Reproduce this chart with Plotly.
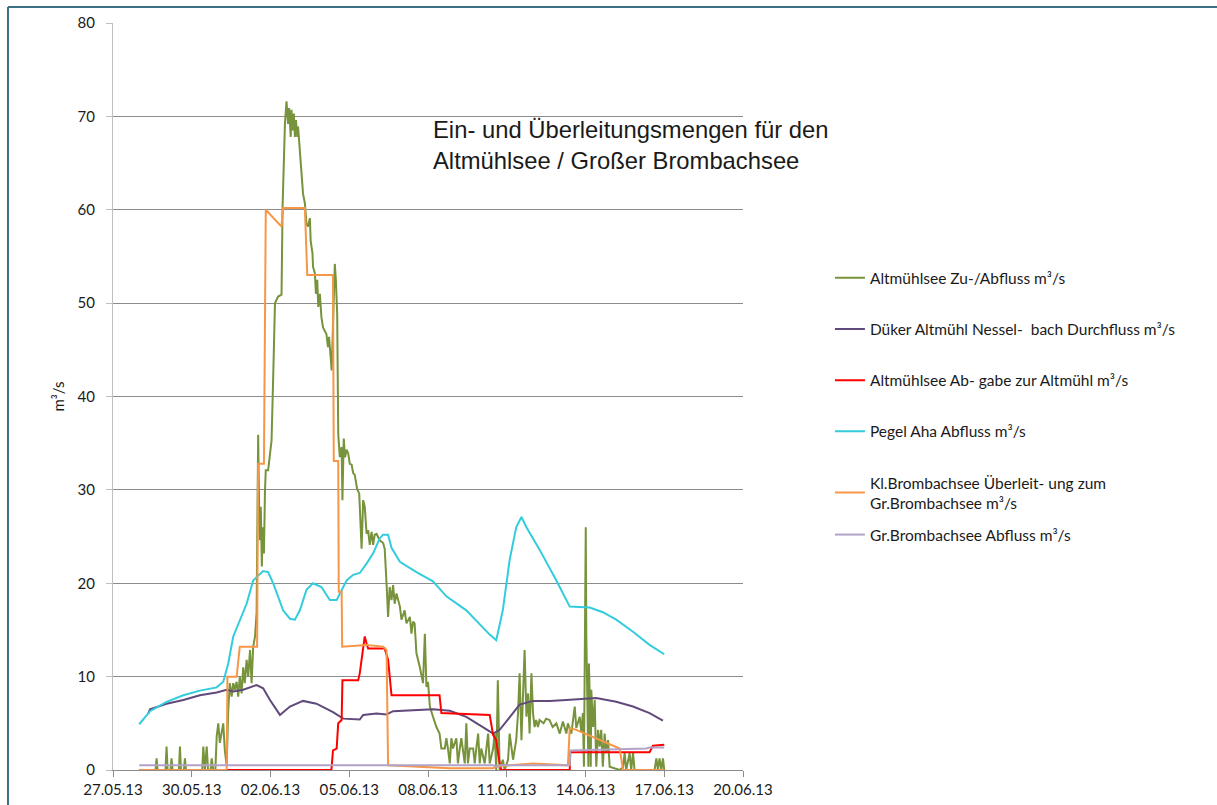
import pandas as pd
import plotly.graph_objects as go

DAY0 = "2013-05-27"  # x values below are days after 27.05.13 00:00

# Altmühlsee Zu-/Abfluss
green_t = [1.0, 1.62, 1.66, 1.70, 2.0, 2.04, 2.08, 2.19, 2.23, 2.27, 2.51, 2.55, 2.59, 2.70, 2.74, 2.78,
           3.40, 3.44, 3.50, 3.57, 3.62, 3.72, 3.76, 3.82, 3.90, 3.95, 4.01, 4.07, 4.20, 4.26, 4.33,
           4.39, 4.45, 4.52, 4.58, 4.64, 4.71, 4.77, 4.83, 4.90, 4.96, 5.02, 5.09, 5.15, 5.22, 5.28,
           5.34, 5.41, 5.47, 5.53, 5.57, 5.60, 5.63, 5.67, 5.70, 5.75, 5.79, 5.82, 5.91, 5.98, 6.04,
           6.10, 6.17, 6.29, 6.42, 6.46, 6.51, 6.55, 6.61, 6.67, 6.71, 6.77, 6.80, 6.84, 6.89, 6.93,
           6.97, 7.02, 7.05, 7.12, 7.18, 7.24, 7.31, 7.37, 7.43, 7.50, 7.53, 7.60, 7.62, 7.69, 7.73,
           7.78, 7.82, 7.88, 7.94, 8.00, 8.13, 8.19, 8.23, 8.29, 8.33, 8.45, 8.49, 8.54, 8.58, 8.64,
           8.71, 8.74, 8.79, 8.84, 8.90, 8.96, 9.02, 9.09, 9.15, 9.21, 9.30, 9.38, 9.47, 9.53, 9.59,
           9.66, 9.72, 9.78, 9.85, 9.91, 9.97, 10.04, 10.16, 10.29, 10.35, 10.42, 10.48, 10.54, 10.61,
           10.67, 10.73, 10.80, 10.93, 10.99, 11.11, 11.18, 11.31, 11.37, 11.43, 11.49, 11.56, 11.69,
           11.81, 11.88, 11.94, 12.00, 12.07, 12.19, 12.32, 12.44, 12.51, 12.64, 12.70, 12.76, 12.83,
           12.89, 12.95, 13.08, 13.14, 13.21, 13.27, 13.40, 13.46, 13.52, 13.59, 13.72, 13.78, 13.84,
           13.91, 13.97, 14.03, 14.16, 14.22, 14.29, 14.35, 14.48, 14.54, 14.60, 14.66, 14.73, 14.85,
           14.92, 15.05, 15.11, 15.24, 15.36, 15.43, 15.49, 15.56, 15.62, 15.68, 15.75, 15.81, 15.87,
           15.94, 16.00, 16.06, 16.12, 16.19, 16.25, 16.40, 16.50, 16.63, 16.75, 16.89, 17.02, 17.14,
           17.27, 17.33, 17.46, 17.59, 17.65, 17.78, 17.84, 17.90, 17.94, 18.01, 18.03, 18.07, 18.11,
           18.13, 18.16, 18.20, 18.22, 18.29, 18.35, 18.41, 18.48, 18.54, 18.60, 18.66, 18.73, 18.79,
           18.86, 18.92, 19.30, 19.43, 19.49, 19.55, 19.68, 19.74, 19.81, 19.87, 20.63, 20.70, 20.76,
           20.82, 20.89, 20.95, 21.0]
green_v = [0, 0, 1.25, 0, 0, 2.5, 0, 0, 1.25, 0, 0, 2.5, 0, 0, 1.25, 0,
           0, 2.5, 0, 2.5, 0, 0, 1.25, 0, 0, 3.6, 5.0, 2.9, 5.0, 2.1, 0.5,
           6.4, 9.3, 7.85, 9.3, 8.6, 9.45, 7.85, 10.0, 8.2, 11.0, 9.3, 11.8, 10.0, 12.85, 9.3,
           13.2, 14.3, 16.8, 35.9, 27.5, 24.6, 28.2, 21.8, 26.0, 23.2, 30.0, 32.1, 32.1, 34.3, 35.3,
           41.8, 50.0, 50.7, 50.9, 60.3, 66.7, 69.2, 71.6, 69.2, 70.9, 67.8, 70.7, 68.5, 70.3, 67.8,
           69.6, 67.8, 68.9, 66.0, 64.6, 61.7, 60.7, 58.5, 58.2, 59.1, 56.7, 55.3, 53.9, 53.2, 51.0,
           52.5, 49.6, 51.0, 48.5, 47.4, 46.7, 45.3, 46.4, 43.5, 42.8, 54.2, 52.5, 48.9, 36.0, 33.5,
           34.6, 28.9, 35.5, 33.5, 34.3, 33.9, 32.8, 32.7, 31.8, 31.6, 30.1, 29.6, 23.7, 28.9, 28.2,
           25.3, 25.7, 24.1, 25.5, 24.1, 25.2, 25.3, 24.6, 24.3, 23.7, 20.0, 16.4, 19.6, 18.2,
           19.8, 17.8, 18.9, 17.5, 16.1, 17.1, 15.7, 16.4, 14.6, 15.9, 15.7, 12.5, 11.0,
           9.3, 14.6, 8.9, 9.45, 6.8, 5.7, 4.6, 3.9, 2.3, 2.3, 3.4, 2.3, 0.7,
           3.4, 2.3, 3.4, 0.7, 2.3, 3.4, 0.7, 5.0, 0.7, 2.3, 2.3, 0.7, 2.3,
           3.9, 0.7, 2.3, 0.7, 2.3, 3.9, 0.7, 2.3, 3.9, 0, 9.6, 0, 1.1,
           0, 1.1, 3.9, 1.1, 3.2, 6.1, 10.35, 3.2, 7.5, 12.85, 5.7, 8.2, 3.9,
           10.35, 6.1, 4.6, 5.35, 4.6, 5.35, 5.0, 5.5, 5.35, 4.6, 5.0, 3.9, 5.2,
           3.9, 5.0, 3.9, 6.8, 4.5, 5.7, 4.0, 6.1, 0.35, 26.0, 14.6, 8.9, 0.35,
           11.4, 8.2, 0.35, 8.6, 4.6, 7.5, 0.35, 4.3, 2.5, 4.3, 0.35, 3.9, 1.8,
           3.2, 0.35, 0, 0.3, 1.8, 0, 1.8, 0, 1.8, 0, 0, 1.25, 0,
           1.25, 0, 1.25, 0]

# Düker Altmühl Nesselbach Durchfluss
purple_t = [1.34, 1.41, 2.04, 2.68, 3.31, 3.95, 4.33, 4.58, 4.96, 5.47, 5.72, 5.98, 6.36, 6.74, 7.24,
            7.75, 8.38, 8.77, 9.40, 9.53, 10.04, 10.42, 10.67, 11.56, 12.19, 12.83, 13.46, 14.09,
            14.48, 14.73, 15.11, 15.49, 16.00, 16.63, 17.27, 17.90, 18.41, 19.17, 19.81, 20.44, 20.95]
purple_v = [6.0, 6.5, 7.1, 7.5, 8.0, 8.3, 8.6, 8.4, 8.6, 9.1, 8.75, 7.5, 5.9, 6.8, 7.4,
            7.1, 6.2, 5.5, 5.4, 5.9, 6.05, 5.95, 6.3, 6.4, 6.5, 6.35, 5.7, 4.6,
            3.9, 4.3, 5.7, 7.0, 7.4, 7.4, 7.5, 7.6, 7.7, 7.3, 6.8, 6.1, 5.3]

# Altmühlsee Abgabe zur Altmühl
red_t = [1.0, 8.32, 8.38, 8.52, 8.58, 8.71, 8.74, 9.34, 9.40, 9.53, 9.59, 9.66, 9.72, 10.35, 10.48,
         10.61, 12.44, 12.51, 14.35, 14.48, 14.60, 14.73, 14.79, 17.40, 17.42, 20.44, 20.57, 21.0]
red_v = [0, 0, 2.1, 2.3, 5.0, 5.35, 9.6, 9.6, 10.35, 12.85, 14.3, 13.55, 13.0, 13.0, 11.8,
         8.0, 8.0, 6.1, 5.9, 3.75, 3.2, 0.7, 0, 0, 1.9, 1.9, 2.6, 2.7]

# Pegel Aha Abfluss
cyan_t = [1.0, 1.41, 2.04, 2.68, 3.31, 3.95, 4.20, 4.39, 4.58, 4.83, 5.09, 5.34, 5.72, 5.91, 6.10,
          6.48, 6.74, 6.93, 7.12, 7.37, 7.62, 7.94, 8.26, 8.52, 8.71, 8.90, 9.15, 9.40, 9.66, 9.91,
          10.16, 10.29, 10.48, 10.61, 10.93, 11.56, 12.19, 12.70, 13.46, 14.09, 14.35, 14.60, 14.85,
          15.11, 15.36, 15.56, 15.75, 16.25, 16.89, 17.40, 18.16, 18.66, 19.17, 19.81, 20.44, 21.0]
cyan_v = [4.9, 6.3, 7.3, 8.0, 8.5, 8.85, 9.45, 11.4, 14.3, 16.0, 17.8, 20.3, 21.3, 21.2, 20.0,
          17.1, 16.2, 16.1, 17.1, 19.3, 20.0, 19.6, 18.2, 18.2, 19.3, 20.3, 20.9, 21.1, 22.1, 23.2,
          24.8, 25.2, 25.2, 23.8, 22.3, 21.2, 20.2, 18.6, 17.1, 15.3, 14.5, 13.9, 17.1,
          22.5, 26.0, 27.1, 26.0, 23.6, 20.3, 17.5, 17.4, 16.9, 16.1, 14.8, 13.4, 12.4]

# Kl.Brombachsee Überleitung zum Gr.Brombachsee
orange_t = [1.0, 4.33, 4.36, 4.71, 4.83, 5.49, 5.53, 5.75, 5.82, 6.42, 6.48, 7.31, 7.40, 8.38, 8.41,
            8.58, 8.60, 8.71, 8.73, 9.66, 10.29, 10.42, 10.48, 12.83, 14.48, 14.60, 15.11, 16.00,
            17.33, 17.40, 17.65, 18.54, 19.30, 19.43, 21.0]
orange_v = [0, 0, 10.0, 10.0, 13.2, 13.2, 32.8, 32.8, 60.0, 58.2, 60.2, 60.2, 53.0, 53.0, 33.1,
            33.1, 19.1, 19.1, 13.2, 13.4, 13.2, 12.85, 0.5, 0.2, 0.2, 0.35, 0.5, 0.7,
            0.5, 4.5, 4.3, 3.2, 2.3, 0, 0]

# Gr.Brombachsee Abfluss
lilac_t = [1.0, 14.48, 14.60, 14.73, 17.40, 17.42, 20.31, 20.44, 21.0]
lilac_v = [0.5, 0.5, 0.35, 0.5, 0.5, 2.1, 2.3, 2.4, 2.4]

series = [
    ("Altmühlsee Zu-/Abfluss m³/s", green_t, green_v, "#77933C", "legend"),
    ("Düker Altmühl Nessel-  bach Durchfluss m³/s", purple_t, purple_v, "#604A7B", "legend"),
    ("Altmühlsee Ab- gabe zur Altmühl m³/s", red_t, red_v, "#FF0000", "legend"),
    ("Pegel Aha Abfluss m³/s", cyan_t, cyan_v, "#33CCDD", "legend"),
    ("Kl.Brombachsee Überleit- ung zum<br>Gr.Brombachsee m³/s", orange_t, orange_v, "#F79646", "legend"),
    ("Gr.Brombachsee Abfluss m³/s", lilac_t, lilac_v, "#B3A2C7", "legend2"),
]

base = pd.Timestamp(DAY0)
fig = go.Figure()
for i, (name, t, v, col, lg) in enumerate(series):
    x = base + pd.to_timedelta(t, unit="D")
    fig.add_trace(go.Scatter(x=x, y=v, mode="lines", name=name, legendgroup=f"g{i}",
                             legend=lg, line=dict(color=col, width=2)))

FONT = "Lato, Carlito, Calibri, sans-serif"
tick_font = dict(family=FONT, size=15, color="#1a1a1a")
leg_font = dict(family=FONT, size=15.5, color="#1a1a1a")

fig.update_layout(
    width=1217, height=805,
    margin=dict(l=113, r=474, t=23, b=35),
    paper_bgcolor="white", plot_bgcolor="white",
    showlegend=True,
    legend=dict(x=1.138, y=0.681, xanchor="left", yanchor="top",
                traceorder="grouped", tracegroupgap=28,
                font=leg_font, bgcolor="rgba(0,0,0,0)"),
    legend2=dict(x=1.138, y=(770 - 518) / 747, xanchor="left", yanchor="top",
                 font=leg_font, bgcolor="rgba(0,0,0,0)"),
    xaxis=dict(type="date", range=["2013-05-27", "2013-06-20"],
               tick0="2013-05-27", dtick=3 * 86400000, tickformat="%d.%m.%y",
               showgrid=False, showline=True, linecolor="#8c8c8c", linewidth=1,
               ticks="outside", ticklen=6, tickcolor="#8c8c8c",
               tickfont=tick_font, zeroline=False, automargin=False),
    yaxis=dict(range=[0, 80], dtick=10, showgrid=True, gridcolor="#8c8c8c", gridwidth=1,
               showline=True, linecolor="#bfbfbf", linewidth=1,
               ticks="outside", ticklen=6, tickcolor="#bfbfbf",
               tickfont=tick_font, ticklabelstandoff=8, zeroline=False, automargin=False,
               title=dict(text="m³/s", font=dict(family=FONT, size=15, color="#1a1a1a"),
                          standoff=9)),
    annotations=[dict(
        text="Ein- und Überleitungsmengen für den<br>Altmühlsee / Großer Brombachsee",
        xref="paper", yref="paper", x=(431 - 113) / 630, y=(770 - 114) / 747,
        xanchor="left", yanchor="top", align="left", showarrow=False,
        font=dict(family="Liberation Sans, Arial, sans-serif", size=23.8, color="#1a1a1a"))],
    shapes=[
        dict(type="line", xref="paper", yref="paper", x0=-0.1667, x1=-0.1667, y0=1.0214, y1=-0.2,
             line=dict(color="#3b7185", width=2)),
        dict(type="line", xref="paper", yref="paper", x0=-0.1667, x1=2.0, y0=1.0214, y1=1.0214,
             line=dict(color="#3b7185", width=2)),
    ],
)

fig.write_html("out.html", config={"displayModeBar": False},
               post_script="document.body.style.margin='0';")
